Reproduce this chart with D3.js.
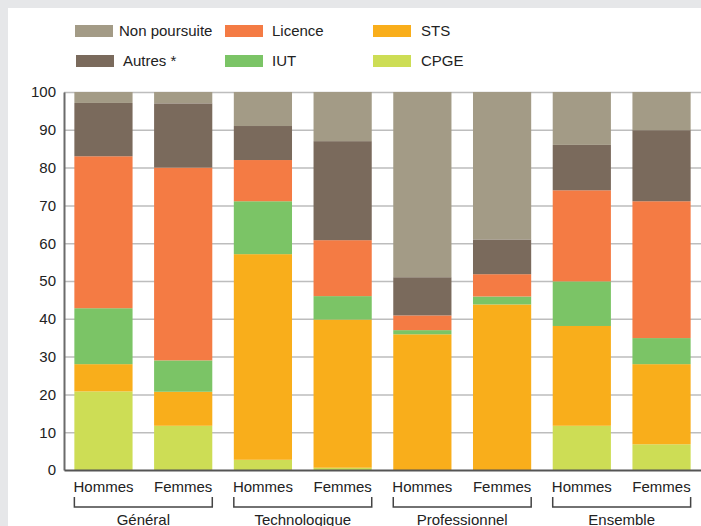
<!DOCTYPE html>
<html>
<head>
<meta charset="utf-8">
<script src="https://cdn.jsdelivr.net/npm/d3@7"></script>
<style>
  body { margin: 0; background: #fff; }
  svg { display: block; font-family: "Liberation Sans", Arial, sans-serif; }
</style>
</head>
<body>
<div id="chart"></div>
<script>
// categories
const groups = ["Général", "Technologique", "Professionnel", "Ensemble"];
const sexes = ["Hommes", "Femmes"];

// series (bottom to top), one value per bar
const CPGE        = [20.8, 11.7,  2.7,  0.6,  0.0,  0.0, 11.7,  6.8];
const STS         = [ 7.2,  9.0, 54.4, 39.2, 35.9, 43.8, 26.4, 21.2];
const IUT         = [14.8,  8.3, 14.0,  6.2,  1.1,  2.1, 11.8,  6.9];
const Licence     = [40.2, 51.0, 10.9, 14.8,  3.9,  5.9, 24.1, 36.2];
const Autres      = [14.1, 17.0,  9.0, 26.2, 10.1,  9.2, 12.0, 18.8];
const NonPoursuite= [ 2.9,  3.0,  9.0, 13.0, 49.0, 39.0, 14.0, 10.1];

const yTicks = [0, 10, 20, 30, 40, 50, 60, 70, 80, 90, 100];

const seriesNames = ["CPGE", "STS", "IUT", "Licence", "Autres *", "Non poursuite"];
const seriesValues = [CPGE, STS, IUT, Licence, Autres, NonPoursuite];
const seriesColors = ["#cddd55", "#f9ae1b", "#7bc466", "#f47b44", "#7a6a5c", "#a39b86"];

const W = 701, H = 526;
const margin = {top: 92, left: 64, right: 0, bottom: 56};
const plotH = H - margin.top - margin.bottom;

const svg = d3.select("#chart").append("svg")
  .attr("width", W).attr("height", H);

// grey frame bands
svg.append("rect").attr("x", 0).attr("y", 0).attr("width", W).attr("height", 8).attr("fill", "#e6e7e9");
svg.append("rect").attr("x", 0).attr("y", 0).attr("width", 8).attr("height", H).attr("fill", "#e6e7e9");

// build table
const bars = [];
groups.forEach((g, gi) => {
  sexes.forEach((s, si) => {
    const row = {key: g + "|" + s, group: g, sex: s};
    seriesNames.forEach((n, k) => { row[n] = seriesValues[k][gi * 2 + si]; });
    bars.push(row);
  });
});

const x = d3.scaleBand()
  .domain(bars.map(d => d.key))
  .range([margin.left, W])
  .paddingInner(0.27)
  .paddingOuter(0.13);

const y = d3.scaleLinear().domain([0, 100]).range([margin.top + plotH, margin.top]);

// gridlines
const grid = svg.append("g")
  .attr("transform", `translate(${margin.left},0)`)
  .call(d3.axisRight(y).tickValues(yTicks.filter(t => t > 0)).tickSize(W - margin.left).tickFormat(""));
grid.select(".domain").remove();
grid.selectAll("line").attr("stroke", "#bdbdbd").attr("stroke-width", 1.5);

// stacked bars
const stack = d3.stack().keys(seriesNames)(bars);
svg.append("g").selectAll("g")
  .data(stack)
  .join("g")
  .attr("fill", (d, i) => seriesColors[i])
  .selectAll("rect")
  .data(d => d)
  .join("rect")
  .attr("x", d => x(d.data.key))
  .attr("width", x.bandwidth())
  .attr("y", d => y(d[1]))
  .attr("height", d => y(d[0]) - y(d[1]));

// y axis
const yAxis = svg.append("g")
  .attr("transform", `translate(${margin.left},0)`)
  .call(d3.axisLeft(y).tickValues(yTicks).tickSize(0).tickPadding(8));
yAxis.select(".domain").attr("stroke", "#6b6b6b").attr("stroke-width", 2);
yAxis.selectAll("text").attr("font-size", 15).attr("fill", "#222")
  .style("font-family", "'Liberation Sans', Arial, sans-serif");

// x axis
const xAxis = svg.append("g")
  .attr("transform", `translate(0,${y(0)})`)
  .call(d3.axisBottom(x).tickSize(0).tickPadding(11).tickFormat(k => k.split("|")[1]));
xAxis.select(".domain").attr("stroke", "#555").attr("stroke-width", 2);
xAxis.selectAll("text").attr("font-size", 15).attr("fill", "#222")
  .style("font-family", "'Liberation Sans', Arial, sans-serif");

// group brackets
const brY1 = 497, brY2 = 507;
groups.forEach(g => {
  const x1 = x(g + "|Hommes");
  const x2 = x(g + "|Femmes") + x.bandwidth();
  svg.append("path")
    .attr("d", `M${x1},${brY1}V${brY2}H${x2}V${brY1}`)
    .attr("fill", "none")
    .attr("stroke", "#444")
    .attr("stroke-width", 1.5);
  svg.append("text")
    .attr("x", (x1 + x2) / 2)
    .attr("y", 525)
    .attr("text-anchor", "middle")
    .attr("font-size", 15)
    .attr("fill", "#222")
    .text(g);
});

// legend
const legendItems = [
  {name: "Non poursuite", color: seriesColors[5], sx: 75, tx: 119, row: 0},
  {name: "Licence", color: seriesColors[3], sx: 225, tx: 272, row: 0},
  {name: "STS", color: seriesColors[1], sx: 373, tx: 421, row: 0},
  {name: "Autres *", color: seriesColors[4], sx: 76, tx: 123, row: 1},
  {name: "IUT", color: seriesColors[2], sx: 225, tx: 272, row: 1},
  {name: "CPGE", color: seriesColors[0], sx: 373, tx: 421, row: 1}
];
const legend = svg.append("g").selectAll("g")
  .data(legendItems)
  .join("g")
  .attr("transform", d => `translate(0,${25 + d.row * 30})`);
legend.append("rect")
  .attr("x", d => d.sx)
  .attr("width", 38)
  .attr("height", 12)
  .attr("fill", d => d.color);
legend.append("text")
  .attr("x", d => d.tx)
  .attr("y", 11)
  .attr("font-size", 15)
  .attr("fill", "#222")
  .text(d => d.name);
</script>
</body>
</html>
